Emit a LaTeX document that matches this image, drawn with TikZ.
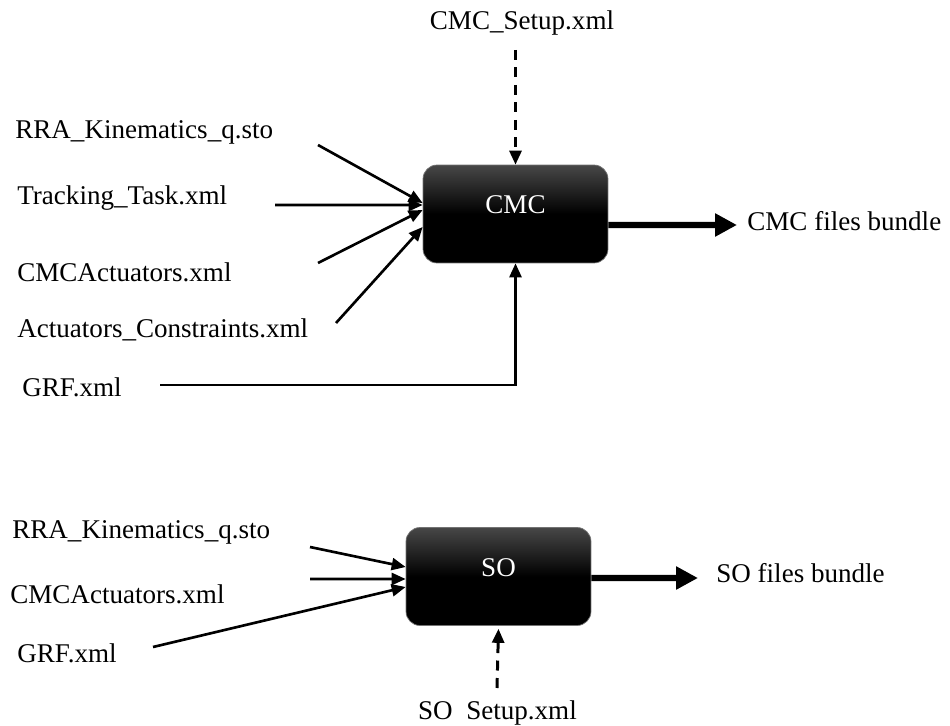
\documentclass[tikz,border=0pt]{standalone}
\usepackage{fontspec}
\setmainfont{Liberation Serif}
\usetikzlibrary{arrows.meta,positioning}
\tikzset{
  tool/.style={rectangle, draw=black!55, line width=0.4pt, rounded corners=0.28cm,
    minimum width=3.7cm, minimum height=1.96cm,
    top color=black!72, bottom color=black, middle color=black,
    text=white, text height=0.3cm, text depth=0.3cm},
  file/.style={anchor=west, inner sep=0pt},
  feed/.style={-{Triangle[length=0.28cm,width=0.24cm]}, line width=1.5pt},
  setup/.style={feed, dash pattern=on 0.2cm off 0.15cm, line width=1.7pt},
  result/.style={-{Triangle[length=0.44cm,width=0.44cm]}, line width=3.6pt}
}

\begin{document}
\begin{tikzpicture}[x=0.02cm, y=-0.02cm, font=\fontsize{15.4}{18}\selectfont]
  \useasboundingbox (0,0) rectangle (950,726);

  % CMC
  \node[tool] (cmc) at (515.5,214) {CMC};
  \node[file] (rra)    at (15,132) {RRA\_Kinematics\_q.sto};
  \node[file] (track)  at (17,198) {Tracking\_Task.xml};
  \node[file] (cmcact) at (17,272) {CMCActuators.xml};
  \node[file] (actcon) at (17,330) {Actuators\_Constraints.xml};
  \node[file] (grf)    at (22,387) {GRF.xml};
  \node (cmcsetup) at (522,23) {CMC\_Setup.xml};

  \coordinate (rraA)    at (318,145);
  \coordinate (trackA)  at (275,205);
  \coordinate (cmcactA) at (318,263);
  \coordinate (actconA) at (336,323);
  \coordinate (grfA)    at (160,385);
  \coordinate (cmcsetA) at (515.5,50);
  \coordinate (cmcout)  at (737,225);
  \node[inner sep=0pt, right=0.2cm of cmcout, yshift=0.08cm] (cmcbundle) {CMC files bundle};

  \draw[feed] (rraA) -- ([yshift=0.22cm]cmc.west);
  \draw[feed] (trackA) -- ([yshift=0.18cm]cmc.west);
  \draw[feed] (cmcactA) -- ([yshift=0.08cm]cmc.west);
  \draw[feed] (actconA) -- ([yshift=-0.26cm]cmc.west);
  \draw[feed] (grfA) -| (cmc.south);
  \draw[setup] (cmcsetA) -- (cmc.north);
  \draw[result] ([yshift=-0.22cm]cmc.east) -- (cmcout);

  % SO
  \node[tool] (so) at (498.5,576.5) {SO};
  \node[file] (rra2)    at (12,532) {RRA\_Kinematics\_q.sto};
  \node[file] (cmcact2) at (10,594) {CMCActuators.xml};
  \node[file] (grf2)    at (17,653) {GRF.xml};
  \node (sosetup) at (497.5,713) {SO\phantom{\_}Setup.xml};

  \coordinate (rra2A)    at (310,547);
  \coordinate (cmcact2A) at (310,579);
  \coordinate (grf2A)    at (153,647);
  \coordinate (sosetA)   at (497,688);
  \coordinate (soout)    at (698,578);
  \node[inner sep=0pt, right=0.36cm of soout, yshift=0.1cm] (sobundle) {SO files bundle};

  \draw[feed] (rra2A) -- ([yshift=0.19cm]so.west);
  \draw[feed] (cmcact2A) -- ([yshift=-0.05cm]so.west);
  \draw[feed] (grf2A) -- ([yshift=-0.21cm]so.west);
  \draw[setup] (sosetA) -- ([yshift=-0.06cm]so.south);
  \draw[result] ([yshift=-0.03cm]so.east) -- (soout);
\end{tikzpicture}
\end{document}
